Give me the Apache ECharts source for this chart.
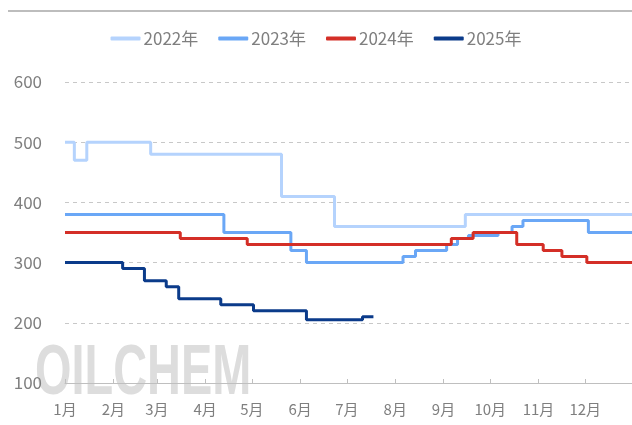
<!DOCTYPE html>
<html>
<head>
<meta charset="utf-8">
<script src="https://cdn.jsdelivr.net/npm/echarts@6/dist/echarts.min.js"></script>
<style>
  html, body { margin: 0; padding: 0; background: #ffffff; }
  #chart { width: 632px; height: 425px; }
</style>
</head>
<body>
<div id="chart"></div>
<script>
// 月份标签与天数（非闰年，365 天）
const monthNames = ['1月', '2月', '3月', '4月', '5月', '6月', '7月', '8月', '9月', '10月', '11月', '12月'];
const monthDays = [31, 28, 31, 30, 31, 30, 31, 31, 30, 31, 30, 31];

// 各年份价格变动点：[第几天(0起), 价格]
const yearNames = ['2022年', '2023年', '2024年', '2025年'];
const steps2022 = [[0, 500], [6, 470], [14, 500], [55, 480], [139, 410], [173, 360], [257, 380], [364, 380]];
const steps2023 = [[0, 380], [102, 350], [145, 320], [155, 300], [217, 310], [225, 320], [245, 330],
                   [252, 340], [259, 345], [278, 350], [287, 360], [294, 370], [336, 350], [364, 350]];
const steps2024 = [[0, 350], [74, 340], [117, 330], [248, 340], [262, 350], [290, 330], [307, 320],
                   [319, 310], [335, 300], [364, 300]];
const steps2025 = [[0, 300], [37, 290], [51, 270], [65, 260], [73, 240], [100, 230], [121, 220],
                   [155, 205], [191, 210], [198, 210]];

const yTicks = [100, 200, 300, 400, 500, 600];

// 逐日类目 + 每月首日位置
const days = [];
const monthStart = {};
monthDays.forEach(function (n, m) {
    monthStart[days.length] = monthNames[m];
    for (let d = 1; d <= n; d++) days.push((m + 1) + '-' + d);
});
const isMonthStart = function (i) { return monthStart[i] !== undefined; };

const colors = ['#b5d3fd', '#6aa7f6', '#d42f27', '#0b3b8a'];
const allSteps = [steps2022, steps2023, steps2024, steps2025];
const textColor = '#7f7f7f';
const fontFam = '"Microsoft YaHei", "Noto Sans CJK SC", sans-serif';

const option = {
    animation: false,
    backgroundColor: '#ffffff',
    color: colors,
    grid: { left: 65, right: 0, top: 82, bottom: 42 },
    legend: {
        data: yearNames,
        top: 25,
        left: 'center',
        icon: 'roundRect',
        itemWidth: 30,
        itemHeight: 4,
        itemGap: 20,
        textStyle: { color: textColor, fontSize: 17, fontFamily: fontFam, padding: [0, 0, 0, -2] }
    },
    xAxis: {
        type: 'category',
        data: days,
        boundaryGap: false,
        axisLine: { lineStyle: { color: '#bfbfbf', width: 1 } },
        axisTick: { inside: true, length: 4, interval: isMonthStart, lineStyle: { color: '#bfbfbf' } },
        axisLabel: {
            interval: isMonthStart,
            formatter: function (v, i) { return monthStart[i] || ''; },
            color: textColor, fontSize: 15, margin: 19, fontFamily: fontFam
        },
        splitLine: { show: false }
    },
    yAxis: {
        type: 'value',
        min: yTicks[0],
        max: yTicks[yTicks.length - 1],
        interval: 100,
        axisLine: { show: false },
        axisTick: { show: false },
        axisLabel: { color: textColor, fontSize: 17, margin: 23, fontFamily: fontFam },
        splitLine: { lineStyle: { color: '#c8c8c8', type: [4, 4], width: 1 } }
    },
    graphic: [
        {
            type: 'line', z: -1,
            shape: { x1: 8, y1: 11, x2: 632, y2: 11 },
            style: { stroke: '#bdbdbd', lineWidth: 2 }
        },
        {
            // 水印
            type: 'text', z: -1, left: 35, top: 340, scaleX: 0.67,
            silent: true,
            style: {
                text: 'OILCHEM',
                font: 'bold 70px "Liberation Sans", sans-serif',
                fill: '#dddddd'
            }
        }
    ],
    series: yearNames.map(function (name, k) {
        return {
            name: name,
            type: 'line',
            step: 'end',
            symbol: 'none',
            data: allSteps[k],
            lineStyle: { width: 3, color: colors[k] },
            z: 2 + k
        };
    })
};

const chart = echarts.init(document.getElementById('chart'));
chart.setOption(option);
</script>
</body>
</html>
